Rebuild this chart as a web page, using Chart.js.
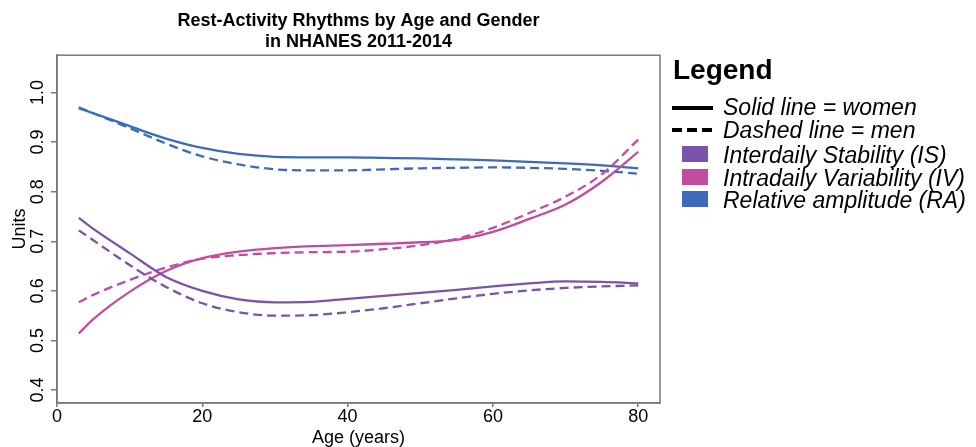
<!DOCTYPE html>
<html>
<head>
<meta charset="utf-8">
<script src="https://cdn.jsdelivr.net/npm/chart.js@4.4.1/dist/chart.umd.min.js"></script>
<style>
  body{margin:0;background:#fff;}
  #wrap{position:relative;width:976px;height:447px;font-family:"Liberation Sans",Arial,sans-serif;color:#000;}
  #chart{position:absolute;left:0;top:0;}
  .lg{position:absolute;white-space:nowrap;}
  .lgtxt{font-style:italic;font-size:23px;line-height:24px;}
  .sw{position:absolute;width:26px;height:16px;}
</style>
</head>
<body>
<div id="wrap">
  <canvas id="chart" width="976" height="447"></canvas>

  <div class="lg" style="left:673px;top:54px;font-weight:bold;font-size:28px;line-height:32px;">Legend</div>

  <div class="lg" style="left:672px;top:106px;width:41px;height:4px;background:#000;"></div>
  <div class="lg lgtxt" style="left:723px;top:95px;">Solid line = women</div>

  <div class="lg" style="left:672px;top:128px;width:42px;height:4px;background:repeating-linear-gradient(90deg,#000 0 10px,transparent 10px 15px);"></div>
  <div class="lg lgtxt" style="left:723px;top:118px;">Dashed line = men</div>

  <div class="sw" style="left:682px;top:146px;background:#7b53a8;"></div>
  <div class="lg lgtxt" style="left:723px;top:143px;">Interdaily Stability (IS)</div>

  <div class="sw" style="left:682px;top:169px;background:#c04d9e;"></div>
  <div class="lg lgtxt" style="left:723px;top:166px;">Intradaily Variability (IV)</div>

  <div class="sw" style="left:682px;top:191px;background:#3d6abb;"></div>
  <div class="lg lgtxt" style="left:723px;top:188px;">Relative amplitude (RA)</div>
</div>

<script>
// ages (years) where curves were read
const ages = [3, 5, 10, 15, 20, 25, 30, 35, 40, 45, 50, 55, 60, 65, 70, 75, 80];

// Interdaily Stability
const isWomen = [0.747, 0.725, 0.676, 0.628, 0.600, 0.583, 0.577, 0.578, 0.584, 0.590, 0.596, 0.602, 0.609, 0.615, 0.619, 0.618, 0.615];
const isMen   = [0.722, 0.702, 0.652, 0.608, 0.575, 0.557, 0.550, 0.551, 0.557, 0.565, 0.575, 0.585, 0.594, 0.601, 0.606, 0.609, 0.611];

// Intradaily Variability
const ivWomen = [0.514, 0.543, 0.598, 0.640, 0.666, 0.679, 0.686, 0.690, 0.692, 0.695, 0.698, 0.703, 0.719, 0.745, 0.774, 0.820, 0.880];
const ivMen   = [0.577, 0.592, 0.622, 0.647, 0.665, 0.672, 0.676, 0.678, 0.679, 0.684, 0.692, 0.705, 0.727, 0.757, 0.790, 0.835, 0.905];

// Relative amplitude
const raWomen = [0.968, 0.958, 0.932, 0.907, 0.888, 0.876, 0.870, 0.869, 0.869, 0.868, 0.867, 0.865, 0.863, 0.860, 0.857, 0.853, 0.847];
const raMen   = [0.970, 0.958, 0.928, 0.897, 0.871, 0.855, 0.845, 0.843, 0.843, 0.845, 0.847, 0.848, 0.849, 0.848, 0.846, 0.842, 0.836];

const xTicks = [0, 20, 40, 60, 80];
const yTicks = [0.4, 0.5, 0.6, 0.7, 0.8, 0.9, 1.0];

const colIS = "#7b53a8";
const colIV = "#c04d9e";
const colRA = "#3d6abb";

const FONT = "'Liberation Sans', Arial, sans-serif";
const AXIS = "#7a7a7a";

function pts(arr){
    return ages.map((a,i)=>({x:a, y:arr[i]}));
}

function series(label, arr, color, dashed){
    return {
        label: label,
        data: pts(arr),
        borderColor: color,
        borderWidth: 2.3,
        borderDash: dashed ? [9,5] : [],
        pointRadius: 0,
        fill: false,
        cubicInterpolationMode: "monotone"
    };
}

/* box round the plot, like R's bty="o" */
const boxPlugin = {
    id: "box",
    afterDraw(chart){
        const a = chart.chartArea;
        const ctx = chart.ctx;
        ctx.save();
        ctx.strokeStyle = AXIS;
        ctx.lineWidth = 1.5;
        ctx.strokeRect(a.left, a.top, a.right - a.left, a.bottom - a.top);
        ctx.restore();
    }
};

new Chart(document.getElementById("chart").getContext("2d"), {
    type: "line",
    data: {
        datasets: [
            series("IS women", isWomen, colIS, false),
            series("IS men", isMen, colIS, true),
            series("IV women", ivWomen, colIV, false),
            series("IV men", ivMen, colIV, true),
            series("RA women", raWomen, colRA, false),
            series("RA men", raMen, colRA, true)
        ]
    },
    options: {
        responsive: false,
        animation: false,
        devicePixelRatio: 1,
        layout: { padding: { left: 0, right: 316, top: 0, bottom: 0 } },
        plugins: {
            legend: { display: false },
            tooltip: { enabled: false },
            title: {
                display: true,
                fullSize: false,
                text: ["Rest-Activity Rhythms by Age and Gender", "in NHANES 2011-2014"],
                color: "#000",
                font: { family: FONT, size: 18, weight: "bold", lineHeight: 1.2 },
                padding: { top: 10, bottom: 2 }
            }
        },
        scales: {
            x: {
                type: "linear",
                min: 0,
                max: 83,
                afterFit: s => { s.height = 44; },
                afterBuildTicks: s => { s.ticks = xTicks.map(v => ({value: v})); },
                grid: { drawOnChartArea: false, color: AXIS, tickLength: 4, lineWidth: 1.5 },
                border: { color: AXIS, width: 1.5 },
                ticks: { color: "#000", font: { family: FONT, size: 18 }, padding: -1, maxRotation: 0 },
                title: { display: true, text: "Age (years)", color: "#000",
                         font: { family: FONT, size: 18, lineHeight: 1 }, padding: 0 }
            },
            y: {
                type: "linear",
                min: 0.374,
                max: 1.075,
                afterFit: s => { s.width = 57; },
                afterBuildTicks: s => { s.ticks = yTicks.map(v => ({value: v})); },
                grid: { drawOnChartArea: false, color: AXIS, tickLength: 6, lineWidth: 1.5 },
                border: { color: AXIS, width: 1.5 },
                ticks: {
                    color: "#000",
                    font: { family: FONT, size: 18 },
                    padding: 0,
                    minRotation: 90,
                    maxRotation: 90,
                    crossAlign: "center",
                    callback: v => v.toFixed(1)
                },
                title: { display: true, text: "Units", color: "#000",
                         font: { family: FONT, size: 18, lineHeight: 1.2 }, padding: { top: 9, bottom: 0 } }
            }
        }
    },
    plugins: [boxPlugin]
});
</script>
</body>
</html>
